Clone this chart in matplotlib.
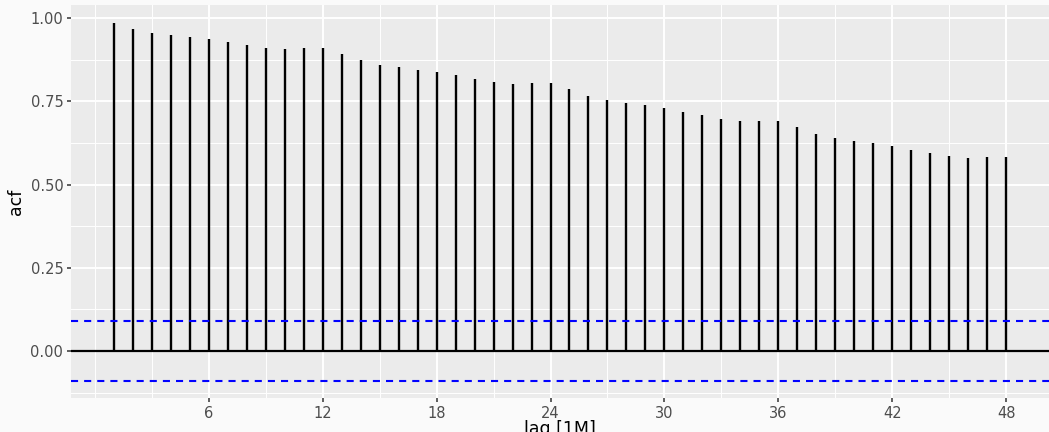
import numpy as np
import matplotlib.pyplot as plt

# autocorrelation by lag (monthly series)
lags = list(range(1, 49))
acf = [0.984, 0.966, 0.954, 0.949, 0.944, 0.938, 0.929, 0.920, 0.911, 0.906,
       0.909, 0.909, 0.893, 0.873, 0.860, 0.852, 0.845, 0.839, 0.829, 0.818,
       0.808, 0.803, 0.804, 0.804, 0.786, 0.767, 0.753, 0.744, 0.738, 0.729,
       0.719, 0.708, 0.697, 0.691, 0.692, 0.690, 0.674, 0.653, 0.639, 0.631,
       0.624, 0.616, 0.605, 0.595, 0.585, 0.580, 0.582, 0.582]
ci = 0.0895  # 1.96 / sqrt(T)

x_breaks = [6, 12, 18, 24, 30, 36, 42, 48]
x_minor = [0, 3, 9, 15, 21, 27, 33, 39, 45]
y_breaks = [0.0, 0.25, 0.5, 0.75, 1.0]
y_labels = ['0.00', '0.25', '0.50', '0.75', '1.00']
y_minor = [-0.125, 0.125, 0.375, 0.625, 0.875]

W, H = 1049, 432
fig = plt.figure(figsize=(W / 100, H / 100), dpi=100, facecolor='#fafafa')
ax = fig.add_axes([71 / W, (H - 398) / H, 1 - 71 / W, (398 - 5) / H])
ax.set_facecolor('#ebebeb')
for s in ax.spines.values():
    s.set_visible(False)

ax.set_xlim(-1.25, 50.25)
ax.set_ylim(-0.141, 1.039)

# grid
for v in x_minor:
    ax.axvline(v, color='white', lw=0.7, zorder=0)
for v in x_breaks:
    ax.axvline(v, color='white', lw=1.4, zorder=0)
for v in y_minor:
    ax.axhline(v, color='white', lw=0.7, zorder=0)
for v in y_breaks:
    ax.axhline(v, color='white', lw=1.4, zorder=0)

# acf segments
ax.vlines(lags, 0, acf, color='black', lw=1.7, zorder=3)
ax.axhline(0, color='black', lw=1.6, zorder=3)
for v in (ci, -ci):
    ax.axhline(v, color='blue', lw=1.5, linestyle=(0, (3.4, 2.9)), zorder=4)

ax.set_xticks(x_breaks)
ax.set_xticklabels([str(b) for b in x_breaks])
ax.set_yticks(y_breaks)
ax.set_yticklabels(y_labels)
ax.tick_params(axis='both', colors='#333333', labelcolor='#4d4d4d',
               labelsize=10.5, length=3, width=1.1, pad=2.5)

ax.set_ylabel('acf', fontsize=12.5, labelpad=4)
fig.text((71 + W) / 2 / W, 1 - 420 / H, 'lag [1M]', fontsize=12.5,
         ha='center', va='top')

fig.savefig('out.png', dpi=100, facecolor=fig.get_facecolor())
